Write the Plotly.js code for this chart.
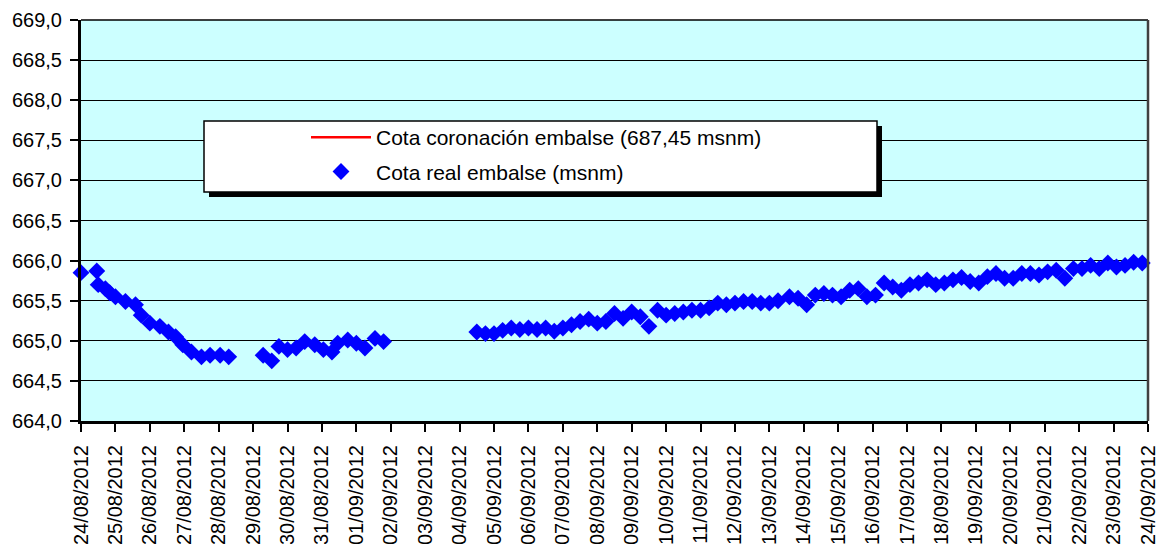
<!DOCTYPE html>
<html>
<head>
<meta charset="utf-8">
<script src="https://cdn.plot.ly/plotly-3.0.1.min.js"></script>
<style>html,body{margin:0;padding:0;background:#fff;}#chart{width:1157px;height:544px;}</style>
</head>
<body>
<div id="chart"></div>
<script>
// Series names
const nameCrest = "Cota coronación embalse (687,45 msnm)";
const nameLevel = "Cota real embalse (msnm)";

// Crest level (off the visible range)
const crestDates = ["2012-08-24 00:00", "2012-09-24 00:00"];
const crestLevels = [687.45, 687.45];

// Measured reservoir level, segment 1
const dates1 = ["2012-08-24 00:00","2012-08-24 11:00","2012-08-24 12:00","2012-08-24 17:00","2012-08-24 20:00",
  "2012-08-25 00:00","2012-08-25 07:00","2012-08-25 14:00","2012-08-25 18:00","2012-08-26 00:00",
  "2012-08-26 07:00","2012-08-26 13:00","2012-08-26 18:00","2012-08-26 23:00","2012-08-27 05:00",
  "2012-08-27 12:00","2012-08-27 18:00","2012-08-28 01:00","2012-08-28 07:00"];
const levels1 = [665.85,665.87,665.70,665.65,665.60,665.55,665.49,665.45,665.32,665.22,
  665.18,665.11,665.05,664.95,664.86,664.80,664.82,664.82,664.80];

// Segment 2
const dates2 = ["2012-08-29 07:00","2012-08-29 13:00","2012-08-29 18:00","2012-08-30 00:00","2012-08-30 06:00",
  "2012-08-30 12:00","2012-08-30 19:00","2012-08-31 01:00","2012-08-31 07:00","2012-08-31 11:00",
  "2012-08-31 18:00","2012-09-01 00:00","2012-09-01 06:00","2012-09-01 13:00","2012-09-01 19:00"];
const levels2 = [664.82,664.75,664.93,664.89,664.91,664.99,664.95,664.89,664.86,664.97,
  665.01,664.97,664.91,665.03,664.99];

// Segment 3
const dates3 = ["2012-09-04 12:00","2012-09-04 18:00",
  "2012-09-05 00:00","2012-09-05 06:00","2012-09-05 12:00","2012-09-05 18:00",
  "2012-09-06 00:00","2012-09-06 06:00","2012-09-06 12:00","2012-09-06 18:00",
  "2012-09-07 00:00","2012-09-07 06:00","2012-09-07 12:00","2012-09-07 18:00",
  "2012-09-08 00:00","2012-09-08 06:00","2012-09-08 12:00","2012-09-08 18:00",
  "2012-09-09 00:00","2012-09-09 06:00","2012-09-09 12:00","2012-09-09 18:00",
  "2012-09-10 00:00","2012-09-10 06:00","2012-09-10 12:00","2012-09-10 18:00",
  "2012-09-11 00:00","2012-09-11 06:00","2012-09-11 12:00","2012-09-11 18:00",
  "2012-09-12 00:00","2012-09-12 06:00","2012-09-12 12:00","2012-09-12 18:00",
  "2012-09-13 00:00","2012-09-13 06:00",
  "2012-09-13 14:00","2012-09-13 20:00",
  "2012-09-14 02:00","2012-09-14 08:00","2012-09-14 14:00","2012-09-14 20:00",
  "2012-09-15 02:00","2012-09-15 08:00","2012-09-15 14:00","2012-09-15 20:00",
  "2012-09-16 02:00","2012-09-16 08:00","2012-09-16 14:00","2012-09-16 20:00",
  "2012-09-17 02:00","2012-09-17 08:00","2012-09-17 14:00","2012-09-17 20:00",
  "2012-09-18 02:00","2012-09-18 08:00","2012-09-18 14:00","2012-09-18 20:00",
  "2012-09-19 02:00","2012-09-19 08:00","2012-09-19 14:00","2012-09-19 20:00",
  "2012-09-20 02:00","2012-09-20 08:00","2012-09-20 14:00","2012-09-20 20:00",
  "2012-09-21 02:00","2012-09-21 08:00","2012-09-21 14:00","2012-09-21 20:00",
  "2012-09-22 02:00","2012-09-22 08:00","2012-09-22 14:00","2012-09-22 20:00",
  "2012-09-23 02:00","2012-09-23 08:00","2012-09-23 14:00","2012-09-23 20:00"];
const levels3 = [665.11,665.09,665.09,665.13,665.16,665.14,665.16,665.14,665.16,665.12,
  665.16,665.20,665.24,665.27,665.22,665.24,
  665.34,665.28,665.36,665.30,665.18,665.38,665.32,665.34,665.36,665.38,
  665.38,665.41,665.47,665.45,665.47,665.49,665.49,665.47,665.47,665.50,
  665.55,665.53,665.45,665.57,665.59,665.57,665.55,665.63,665.65,665.55,
  665.57,665.72,665.67,665.63,665.70,665.72,665.76,665.70,665.72,665.76,665.79,
  665.74,665.72,665.80,665.84,665.78,665.78,665.84,665.84,665.82,665.86,
  665.88,665.78,665.90,665.90,665.94,665.90,665.97,665.92,665.94,665.98,665.97];

// Axis ranges / ticks
const xRange = ["2012-08-24 00:00", "2012-09-24 00:00"];
const yRange = [664, 669];
const yStep = 0.5;

const FONT = "Liberation Sans, Arial, sans-serif";
const L = 81, R = 1148, T = 20, B = 421;
const W = R - L, H = B - T;
const px = v => (v - L) / W;
const py = v => (B - v) / H;

const traces = [
  {
    x: crestDates, y: crestLevels, name: nameCrest, type: "scatter", mode: "lines",
    line: {color: "#FF0000", width: 2.5}, legendgroup: "a"
  },
  {
    x: dates1.concat(dates2, dates3), y: levels1.concat(levels2, levels3),
    name: nameLevel, type: "scatter", mode: "markers",
    marker: {symbol: "diamond", size: 13, color: "#0000FF", line: {width: 0}},
    legendgroup: "b", cliponaxis: false
  }
];

const layout = {
  width: 1157, height: 544,
  margin: {l: L, r: 1157 - R, t: T, b: 544 - B, pad: 0},
  paper_bgcolor: "#FFFFFF",
  plot_bgcolor: "#CCFFFF",
  separators: ",.",
  font: {family: FONT, size: 20, color: "#000"},
  showlegend: true,
  legend: {
    x: px(306), y: py(117), xanchor: "left", yanchor: "top",
    bgcolor: "rgba(0,0,0,0)", borderwidth: 0, itemwidth: 60,
    tracegroupgap: 4, traceorder: "grouped",
    font: {family: FONT, size: 21, color: "#000"}
  },
  xaxis: {
    type: "date", range: xRange, tick0: xRange[0], dtick: 86400000,
    tickformat: "%d/%m/%Y", tickangle: -90, ticklabeloverflow: "allow",
    ticks: "outside", ticklen: 8, tickwidth: 2, tickcolor: "#000",
    showline: true, linecolor: "#000", linewidth: 3,
    showgrid: false, zeroline: false, fixedrange: true, ticklabelstandoff: 5,
    tickfont: {family: FONT, size: 20, color: "#000"}
  },
  yaxis: {
    range: yRange, dtick: yStep, tick0: yRange[0], tickformat: ".1f",
    ticks: "outside", ticklen: 8, tickwidth: 2, tickcolor: "#000",
    showline: true, linecolor: "#000", linewidth: 3,
    showgrid: true, gridcolor: "#000", gridwidth: 1,
    zeroline: false, fixedrange: true, ticklabelstandoff: 4,
    tickfont: {family: FONT, size: 20, color: "#000"}
  },
  shapes: [
    {type: "line", xref: "paper", yref: "paper", x0: 0, x1: 1, y0: 1, y1: 1,
     line: {color: "#000", width: 1.5}, layer: "above"},
    {type: "line", xref: "paper", yref: "paper", x0: 1, x1: 1, y0: 0, y1: 1,
     line: {color: "#404040", width: 2.5}, layer: "above"},
    {type: "rect", xref: "paper", yref: "paper",
     x0: px(209), x1: px(882), y0: py(197), y1: py(126),
     fillcolor: "#000", line: {width: 0}, layer: "above"},
    {type: "rect", xref: "paper", yref: "paper",
     x0: px(204), x1: px(877), y0: py(192), y1: py(121),
     fillcolor: "#FFFFFF", line: {color: "#000", width: 1.5}, layer: "above"}
  ]
};

Plotly.newPlot("chart", traces, layout, {displayModeBar: false, staticPlot: true});
</script>
</body>
</html>
